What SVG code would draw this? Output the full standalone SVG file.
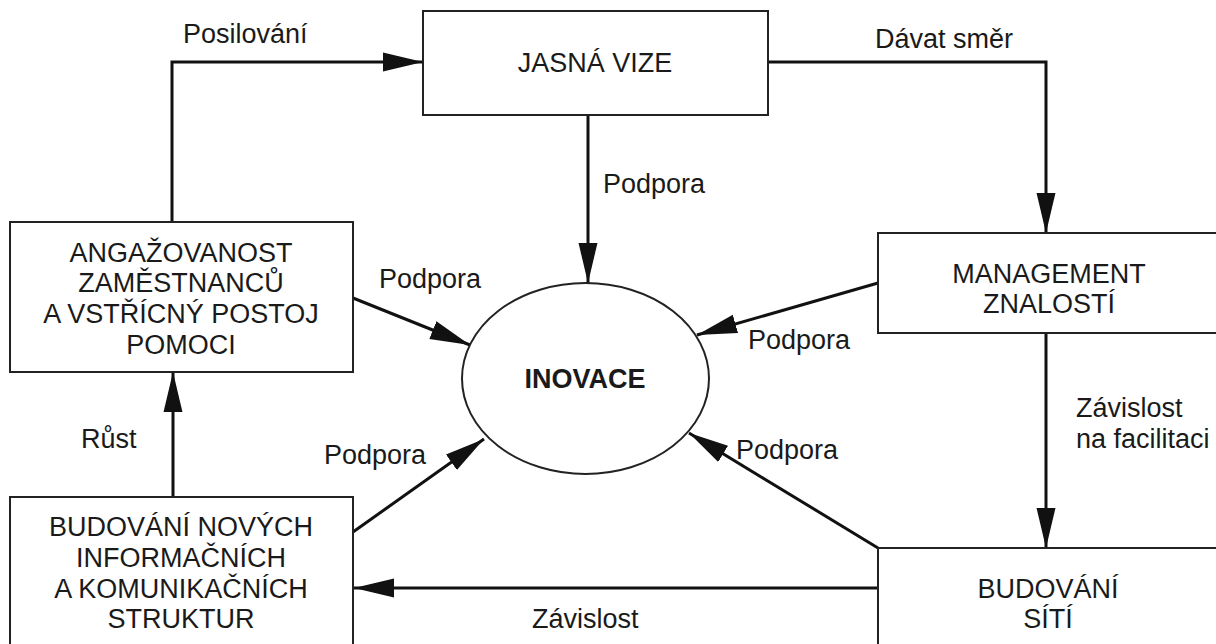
<svg xmlns="http://www.w3.org/2000/svg" width="1216" height="644" viewBox="0 0 1216 644">
  <style>
    text { font-family: "Liberation Sans", Arial, sans-serif; font-size: 27px; fill: #1a1a1a; }
    .node rect, .node ellipse { fill: #ffffff; stroke: #222222; stroke-width: 2; }
    .node text { text-anchor: middle; }
    .bold { font-weight: bold; }
    .conn path { fill: none; stroke: #111111; stroke-width: 3; marker-end: url(#arrow); }
  </style>
  <defs>
    <marker id="arrow" markerUnits="userSpaceOnUse" markerWidth="40" markerHeight="20" viewBox="0 0 38 18" refX="38" refY="9" orient="auto">
      <path d="M0,0 L38,9 L0,18 Z" fill="#111111"/>
    </marker>
  </defs>
  <rect width="1216" height="644" fill="#ffffff"/>

  <!-- connectors -->
  <g id="connectors" class="conn">
    <path d="M172,222 V62 H423"/>
    <path d="M768,62 H1046 V233"/>
    <path d="M588,115 V283"/>
    <path d="M353,298 L470,345"/>
    <path d="M878,283 L697,335"/>
    <path d="M353,532 L484,439"/>
    <path d="M878,548 L689,433"/>
    <path d="M1046,333 V548"/>
    <path d="M878,588 H354"/>
    <path d="M173,497 V372"/>
  </g>

  <!-- connector labels -->
  <g id="labels">
    <text x="183" y="43">Posilování</text>
    <text x="875" y="48">Dávat směr</text>
    <text x="603" y="193">Podpora</text>
    <text x="379" y="288">Podpora</text>
    <text x="748" y="349">Podpora</text>
    <text x="1076" y="417">Závislost</text>
    <text x="1076" y="448">na facilitaci</text>
    <text x="81" y="448">Růst</text>
    <text x="324" y="464">Podpora</text>
    <text x="736" y="459">Podpora</text>
    <text x="532" y="628">Závislost</text>
  </g>

  <g id="jasna-vize" class="node">
    <rect x="423" y="11" width="345" height="104"/>
    <text x="595" y="72">JASNÁ VIZE</text>
  </g>

  <g id="angazovanost" class="node">
    <rect x="10" y="222" width="343" height="150"/>
    <text x="181" y="262">ANGAŽOVANOST</text>
    <text x="181" y="292">ZAMĚSTNANCŮ</text>
    <text x="181" y="323">A VSTŘÍCNÝ POSTOJ</text>
    <text x="181" y="354">POMOCI</text>
  </g>

  <g id="management" class="node">
    <rect x="878" y="233" width="360" height="100"/>
    <text x="1049" y="283">MANAGEMENT</text>
    <text x="1049" y="313">ZNALOSTÍ</text>
  </g>

  <g id="inovace" class="node">
    <ellipse cx="585.5" cy="378.5" rx="123.5" ry="95.5"/>
    <text class="bold" x="585" y="388">INOVACE</text>
  </g>

  <g id="budovani-struktur" class="node">
    <rect x="10" y="497" width="343" height="160"/>
    <text x="181" y="536">BUDOVÁNÍ NOVÝCH</text>
    <text x="181" y="567">INFORMAČNÍCH</text>
    <text x="181" y="598">A KOMUNIKAČNÍCH</text>
    <text x="181" y="628">STRUKTUR</text>
  </g>

  <g id="budovani-siti" class="node">
    <rect x="878" y="548" width="360" height="110"/>
    <text x="1048" y="598">BUDOVÁNÍ</text>
    <text x="1048" y="628">SÍTÍ</text>
  </g>
</svg>
